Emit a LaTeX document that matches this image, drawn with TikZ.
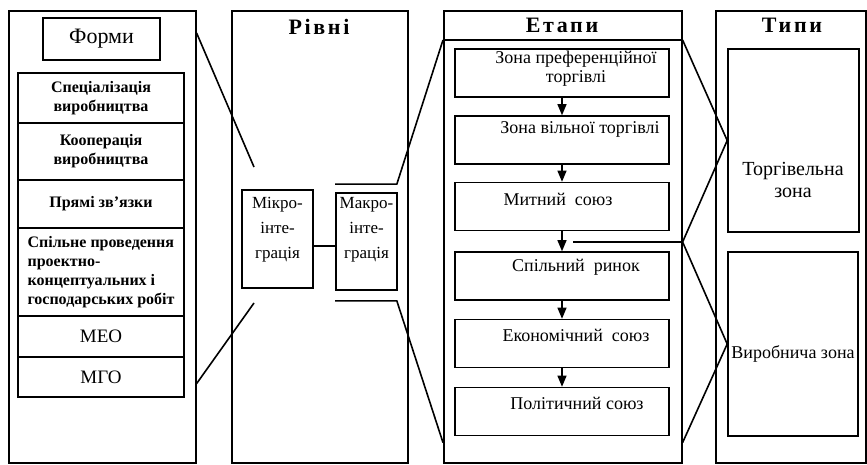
\documentclass[tikz,border=0pt]{standalone}
\usepackage{fontspec}
\setmainfont{Liberation Serif}
\usetikzlibrary{arrows}

\tikzset{
  frame/.style={draw,line width=1.6pt,inner sep=0pt,anchor=north west},
  cell/.style={draw,line width=1.6pt,inner sep=0pt,align=center},
  formtxt/.style={font=\bfseries\fontsize{16}{19}\selectfont},
  coltitle/.style={inner sep=0pt,font=\bfseries\fontsize{22}{22}\selectfont\addfontfeatures{LetterSpace=12}},
  stage/.style={cell,minimum width=214pt,minimum height=48pt},
  stagetxt/.style={inner sep=0pt,align=center,font=\fontsize{18}{19}\selectfont},
  leveltxt/.style={inner sep=0pt,align=center,font=\fontsize{17}{25}\selectfont},
  typetxt/.style={inner sep=0pt,align=center,font=\fontsize{18}{21}\selectfont}
}

\begin{document}
\begin{tikzpicture}[line join=miter,>=triangle 45,x=1pt,y=-1pt,line width=1.6pt]

\useasboundingbox (0,0) rectangle (867,465);

% columns
\node[frame,minimum width=187pt,minimum height=452pt] (formcol) at (8,10) {};
\node[frame,minimum width=176pt,minimum height=452pt] (levelcol) at (231,10) {};
\node[frame,minimum width=238pt,minimum height=452pt] (stagecol) at (443,10) {};
\node[frame,minimum width=150pt,minimum height=452pt] (typecol) at (715,10) {};

\node[coltitle] (leveltitle) at (319,27) {Рівні};
\node[coltitle] (stagetitle) at (562,25) {Етапи};
\node[coltitle] (typetitle) at (792,25) {Типи};
\coordinate (barw) at ([yshift=-30pt]stagecol.north west);
\coordinate (bare) at ([yshift=-30pt]stagecol.north east);
\draw (barw) -- (bare);

% forms
\node[cell,minimum width=117pt,minimum height=42pt,font=\fontsize{22}{22}\selectfont] (formtitle) at (101.5,39) {Форми};
\node[cell,formtxt,minimum width=166pt,minimum height=50pt] (spec) at (101,98) {Спеціалізація\\виробництва};
\node[cell,formtxt,minimum width=166pt,minimum height=57pt] (coop) at (101,151.5) {Кооперація\\виробництва};
\node[cell,formtxt,minimum width=166pt,minimum height=48pt] (direct) at (101,204) {Прямі зв'язки};
\node[cell,formtxt,minimum width=166pt,minimum height=88pt,align=left] (joint) at (101,272) {Спільне проведення\\проектно-\\концептуальних і\\господарських робіт};
\node[cell,minimum width=166pt,minimum height=41pt,font=\fontsize{19}{19}\selectfont] (meo) at (101,336.5) {МЕО};
\node[cell,minimum width=166pt,minimum height=40pt,font=\fontsize{19}{19}\selectfont] (mgo) at (101,377) {МГО};

% levels
\node[cell,minimum width=71pt,minimum height=98pt] (micro) at (277.5,239) {};
\node[leveltxt] (microt) at (277.5,230) {Мікро-\\інте-\\грація};
\node[cell,minimum width=61pt,minimum height=97pt] (macro) at (366.5,241.5) {};
\node[leveltxt] (macrot) at (366.5,230) {Макро-\\інте-\\грація};
\draw ([yshift=-7pt]micro.east) -- ([yshift=-4.5pt]macro.west);

\coordinate (ftop) at ([yshift=-23pt]formcol.north east);
\coordinate (fbot) at ([yshift=80pt]formcol.south east);
\coordinate (microup) at (254,167);
\coordinate (microdn) at (254,303);
\draw (ftop) -- (microup);
\draw (fbot) -- (microdn);

\coordinate (mtopl) at ([yshift=8pt]macro.north west);
\coordinate (mtopr) at ([xshift=-1pt,yshift=8pt]macro.north east);
\coordinate (mbotl) at ([yshift=-10pt]macro.south west);
\coordinate (mbotr) at ([xshift=-1pt,yshift=-10pt]macro.south east);
\coordinate (stagesw) at ([yshift=21pt]stagecol.south west);
\draw (mtopl) -- (mtopr) -- (barw);
\draw (mbotl) -- (mbotr) -- (stagesw);

% stages
\node[stage] (s1) at (562,73) {};
\node[stage] (s2) at (562,140) {};
\node[stage] (s3) at (562,206.5) {};
\node[stage] (s4) at (562,276) {};
\node[stage] (s5) at (562,343.5) {};
\node[stage] (s6) at (562,411.5) {};
\node[stagetxt] (s1t) at (576,69) {Зона преференційної\\торгівлі};
\node[stagetxt] (s2t) at (580,129) {Зона вільної торгівлі};
\node[stagetxt] (s3t) at (558,199) {Митний\ \ союз};
\node[stagetxt] (s4t) at (576,267) {Спільний\ \ ринок};
\node[stagetxt] (s5t) at (576,335) {Економічний\ \ союз};
\node[stagetxt] (s6t) at (577,403) {Політичний союз};
\draw[->] (s1) -- (s2);
\draw[->] (s2) -- (s3);
\draw[->] (s3) -- (s4);
\draw[->] (s4) -- (s5);
\draw[->] (s5) -- (s6);

% types
\node[cell,minimum width=131pt,minimum height=183pt] (trade) at (793.5,140.5) {};
\node[typetxt,font=\fontsize{20}{22}\selectfont] (tradet) at (793,180) {Торгівельна\\зона};
\node[cell,minimum width=130pt,minimum height=184pt] (prod) at (793,344) {};
\node[typetxt] (prodt) at (793,354) {Виробнича зона};

\coordinate (split) at (573,242);
\coordinate (fork) at (split -| stagecol.east);
\coordinate (stagese) at ([yshift=21pt]stagecol.south east);
\draw (split) -- (fork);
\draw (bare) -- (trade.west) -- (fork) -- (prod.west) -- (stagese);

\end{tikzpicture}
\end{document}
